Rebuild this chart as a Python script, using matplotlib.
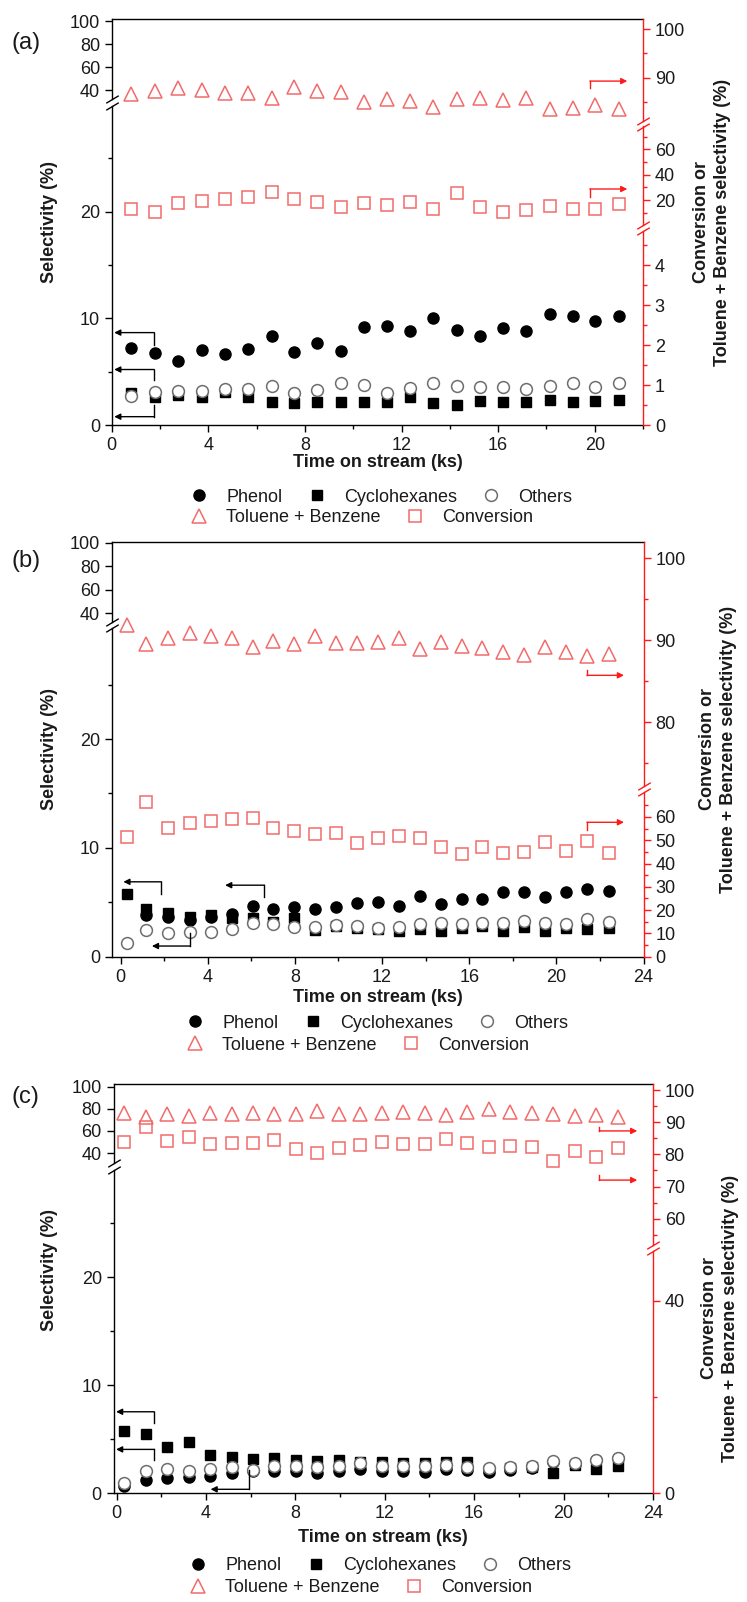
import matplotlib.pyplot as plt
from matplotlib.ticker import MultipleLocator, FixedLocator
import numpy as np

plt.rcParams['font.family'] = ['Liberation Sans', 'DejaVu Sans']

# ---- data ----
time_a = [0.81, 1.78, 2.74, 3.73, 4.67, 5.63, 6.62, 7.54, 8.5, 9.48, 10.43,
          11.4, 12.37, 13.3, 14.28, 15.26, 16.2, 17.14, 18.15, 19.1, 20.03, 21.0]
phenol_a = [7.19, 6.78, 6.0, 7.03, 6.66, 7.13, 8.34, 6.88, 7.66, 6.94, 9.16,
            9.28, 8.84, 10.06, 8.9, 8.38, 9.06, 8.81, 10.4, 10.25, 9.78, 10.22]
cyclo_a = [3.03, 2.66, 2.81, 2.59, 3.13, 2.59, 2.19, 2.09, 2.13, 2.19, 2.13,
           2.13, 2.66, 2.03, 1.88, 2.25, 2.19, 2.13, 2.34, 2.19, 2.25, 2.34]
others_a = [2.72, 3.13, 3.22, 3.19, 3.38, 3.38, 3.66, 2.97, 3.28, 3.9, 3.78,
            2.97, 3.44, 3.9, 3.66, 3.53, 3.53, 3.34, 3.66, 3.97, 3.53, 3.97]
tolben_a = [86.6, 87.3, 87.8, 87.5, 86.8, 86.9, 85.9, 88.0, 87.3, 87.1, 84.9,
            85.6, 85.2, 84.0, 85.6, 85.8, 85.4, 85.8, 83.5, 83.7, 84.4, 83.6]
conv_a = [12.9, 10.8, 17.4, 19.5, 20.5, 22.1, 26.5, 20.8, 18.7, 14.3, 17.4,
          15.8, 18.2, 12.9, 25.3, 14.3, 10.4, 12.2, 15.3, 12.9, 12.9, 16.6]

time_b = [0.29, 1.19, 2.18, 3.19, 4.17, 5.12, 6.07, 7.0, 7.95, 8.94, 9.87, 10.85,
          11.8, 12.78, 13.75, 14.7, 15.65, 16.6, 17.56, 18.5, 19.49, 20.46, 21.4, 22.39]
phenol_b = [np.nan, 3.82, 3.61, 3.36, 3.61, 3.91, 4.65, 4.34, 4.53, 4.34, 4.53, 4.89,
            5.05, 4.65, 5.57, 4.83, 5.26, 5.26, 5.96, 5.96, 5.5, 5.96, 6.18, 6.02]
cyclo_b = [5.75, 4.34, 4.04, 3.61, 3.82, 3.58, 3.52, 3.21, 3.52, 2.45, 2.81, 2.6,
           2.54, 2.39, 2.51, 2.35, 2.6, 2.81, 2.35, 2.69, 2.35, 2.6, 2.54, 2.6]
others_b = [1.28, 2.45, 2.2, 2.23, 2.29, 2.54, 3.06, 2.97, 2.75, 2.75, 2.87, 2.81,
            2.6, 2.75, 2.97, 3.12, 3.0, 3.06, 3.12, 3.3, 3.12, 3.0, 3.42, 3.18]
tolben_b = [91.8, 89.5, 90.2, 90.9, 90.5, 90.3, 89.1, 89.9, 89.5, 90.5, 89.7, 89.6,
            89.8, 90.3, 88.9, 89.8, 89.3, 89.0, 88.6, 88.2, 89.1, 88.5, 88.1, 88.3]
conv_b = [51.5, 66.5, 55.4, 57.3, 58.2, 59.1, 59.4, 55.4, 54.1, 52.5, 53.2, 48.7,
          50.8, 51.8, 51.1, 47.2, 43.9, 47.2, 44.4, 45.1, 49.1, 45.4, 49.7, 44.4]

time_c = [0.32, 1.3, 2.26, 3.22, 4.18, 5.14, 6.1, 7.06, 8.02, 8.96, 9.94, 10.9,
          11.86, 12.82, 13.78, 14.74, 15.7, 16.66, 17.62, 18.58, 19.54, 20.5, 21.46, 22.42]
phenol_c = [0.68, 1.23, 1.38, 1.48, 1.6, 1.91, 2.09, 2.09, 2.09, 1.85, 2.09, 2.22,
            2.09, 2.09, 2.0, 2.22, 2.15, 2.0, 2.15, 2.31, 2.86, 2.71, 3.08, 3.23]
cyclo_c = [5.78, 5.48, 4.31, 4.77, 3.54, 3.38, 3.14, 3.23, 3.08, 2.98, 3.08, 2.92,
           2.92, 2.83, 2.83, 2.92, 2.92, 2.2, 2.3, 2.4, 1.85, 2.6, 2.22, 2.52]
others_c = [0.98, 2.09, 2.22, 2.09, 2.22, 2.46, 2.15, 2.52, 2.55, 2.4, 2.52, 2.83,
            2.52, 2.52, 2.52, 2.62, 2.4, 2.31, 2.4, 2.52, 2.98, 2.77, 3.08, 3.29]
tolben_c = [93.0, 91.7, 92.5, 92.0, 92.8, 92.6, 93.0, 92.5, 92.6, 93.5, 92.5, 92.5,
            93.0, 93.1, 92.8, 92.3, 93.1, 94.0, 93.3, 92.8, 92.5, 92.0, 92.1, 91.6]
conv_c = [84.0, 88.6, 84.3, 85.3, 83.2, 83.5, 83.5, 84.5, 81.6, 80.5, 82.1, 82.9,
          84.0, 83.1, 83.2, 84.8, 83.5, 82.4, 82.6, 82.4, 78.0, 81.1, 79.3, 81.9]

W, H = 747, 1602
RED = '#ff1a1a'
PALE = '#f26b6b'
TXT = '#1a1a1a'
fig = plt.figure(figsize=(W / 100, H / 100), dpi=100)


def px_axes(x0, x1, y0, y1):
    ax = fig.add_axes([x0 / W, 1 - y1 / H, (x1 - x0) / W, (y1 - y0) / H])
    ax.patch.set_alpha(0)
    for s in ax.spines.values():
        s.set_visible(False)
        s.set_linewidth(1.0)
    ax.tick_params(labelsize=13, labelcolor=TXT, width=1.0, length=5)
    ax.tick_params(which='minor', width=1.0, length=3)
    return ax


def brk(ax, x, y, color):
    ax.plot([x], [y], transform=ax.transAxes, marker=[(-1, -0.6), (1, 0.6)],
            markersize=9, ls='none', mec=color, mew=1.0, clip_on=False)


def bracket(ax, x_tail, x_head, y, y_stem, color):
    ax.plot([x_tail, x_tail], [y_stem, y], color=color, lw=1.0, clip_on=False)
    ax.annotate('', xy=(x_head, y), xytext=(x_tail, y),
                arrowprops=dict(arrowstyle='-|>', color=color, lw=1.0,
                                mutation_scale=9, shrinkA=0, shrinkB=0))


def panel(p, t, phenol, cyclo, others, tolben, conv):
    x0, x1, top, bot = p['x0'], p['x1'], p['top'], p['bot']
    (u_b, l_t) = p['lsplit']
    lu = px_axes(x0, x1, top, u_b)
    ll = px_axes(x0, x1, l_t, bot)
    for ax in (lu, ll):
        ax.set_xlim(p['xlim'])
        ax.spines['left'].set_visible(True)
    lu.spines['top'].set_visible(True)
    ll.spines['bottom'].set_visible(True)
    lu.set_ylim(p['lu_lim'])
    ll.set_ylim(p['ll_lim'])
    lu.yaxis.set_major_locator(FixedLocator([40, 60, 80, 100]))
    lu.set_xticks([])
    ll.yaxis.set_major_locator(FixedLocator([0, 10, 20]))
    ll.yaxis.set_minor_locator(FixedLocator([5, 15, 25]))
    ll.xaxis.set_major_locator(FixedLocator(p['xticks']))
    ll.xaxis.set_minor_locator(MultipleLocator(2))
    brk(lu, 0, 0, 'k')
    brk(ll, 0, 1, 'k')

    h_ph, = ll.plot(t, phenol, 'o', color='k', ms=8, label='Phenol')
    h_cy, = ll.plot(t, cyclo, 's', color='k', ms=7, label='Cyclohexanes')
    h_ot, = ll.plot(t, others, 'o', mfc='white', mec='#6e6e6e', mew=1.1, ms=8.5,
                    label='Others')

    rs = []
    for (yt, yb, lim, major, minor) in p['right']:
        ax = px_axes(x0, x1, yt, yb)
        ax.set_xlim(p['xlim'])
        ax.set_ylim(lim)
        ax.set_xticks([])
        ax.spines['right'].set_visible(True)
        ax.spines['right'].set_color(RED)
        ax.yaxis.tick_right()
        ax.yaxis.set_major_locator(FixedLocator(major))
        ax.yaxis.set_minor_locator(FixedLocator(minor))
        ax.tick_params(axis='y', which='both', color=RED)
        rs.append(ax)
    for i, ax in enumerate(rs):
        if i > 0:
            brk(ax, 1, 1, RED)
        if i < len(rs) - 1:
            brk(ax, 1, 0, RED)

    h_tb, = rs[0].plot(t, tolben, '^', mfc='none', mec=PALE, mew=1.1, ms=10,
                       label='Toluene + Benzene')
    h_cv, = rs[p['conv_seg']].plot(t, conv, 's', mfc='none', mec=PALE, mew=1.1,
                                   ms=8, label='Conversion')

    for (xt, xh, y, ys) in p['black']:
        bracket(ll, xt, xh, y, ys, 'k')
    for (seg, xt, xh, y, ys) in p['red']:
        bracket(rs[seg], xt, xh, y, ys, RED)

    xc = (x0 + x1) / 2
    fig.text(12 / W, 1 - p['tag_y'] / H, p['tag'], fontsize=17, va='center',
             color=TXT)
    fig.text(50 / W, 1 - p['ylab_y'] / H, 'Selectivity (%)', rotation=90,
             fontsize=13, fontweight='bold', ha='center', va='center', color=TXT)
    fig.text(p['rlab_x'] / W, 1 - p['rlab_y'] / H,
             'Conversion or\nToluene + Benzene selectivity (%)', rotation=90,
             fontsize=13, fontweight='bold', ha='center', va='center',
             multialignment='center', linespacing=1.25, color=TXT)
    fig.text(xc / W, 1 - p['xlab_y'] / H, 'Time on stream (ks)', fontsize=13,
             fontweight='bold', ha='center', va='center', color=TXT)
    for handles, y in (([h_ph, h_cy, h_ot], p['leg_y'][0]),
                       ([h_tb, h_cv], p['leg_y'][1])):
        fig.legend(handles=handles, loc='center left',
                   bbox_to_anchor=(p['leg_x'] / W, 1 - y / H), ncol=len(handles),
                   frameon=False, fontsize=13, borderpad=0, handlelength=1.0,
                   handletextpad=1.0, columnspacing=1.4, labelcolor=TXT)


pa = dict(x0=111.8, x1=643, top=19.3, bot=425, xlim=(0, 22),
          xticks=[0, 4, 8, 12, 16, 20],
          lsplit=(99, 106), lu_lim=(32.2, 101.5), ll_lim=(0, 29.9),
          right=[(19.3, 120.5, (81.2, 102.0), [90, 100], [85, 95]),
                 (126.5, 225, (0.3, 78.0), [20, 40, 60], [10, 30, 50, 70]),
                 (231, 425, (0, 4.85), [0, 1, 2, 3, 4],
                  [0.5, 1.5, 2.5, 3.5, 4.5])],
          conv_seg=1,
          black=[(1.76, 0.1, 8.66, 7.5), (1.76, 0.1, 5.2, 4.2),
                 (1.76, 0.1, 0.78, 1.9)],
          red=[(0, 19.8, 21.35, 89.3, 87.9), (1, 19.8, 21.35, 28.7, 22.4)],
          tag='(a)', tag_y=43, ylab_y=222, rlab_x=712, rlab_y=222,
          xlab_y=463, leg_y=(497, 518), leg_x=181)

pb = dict(x0=111.8, x1=643.6, top=541.7, bot=956.7, xlim=(-0.4, 24),
          xticks=[0, 4, 8, 12, 16, 20, 24],
          lsplit=(622, 628), lu_lim=(32.3, 101.1), ll_lim=(0, 30.2),
          right=[(541.7, 786, (72.2, 102.0), [80, 90, 100], [75, 85, 95]),
                 (792, 956.7, (0, 70.7), [0, 10, 20, 30, 40, 50, 60],
                  [5, 15, 25, 35, 45, 55, 65])],
          conv_seg=1,
          black=[(1.88, 0.13, 6.88, 5.75), (6.6, 4.8, 6.57, 5.5),
                 (3.19, 1.44, 0.98, 2.14)],
          red=[(0, 21.4, 23.1, 85.7, 86.3), (1, 21.4, 23.1, 57.7, 54.4)],
          tag='(b)', tag_y=561, ylab_y=749, rlab_x=718, rlab_y=749,
          xlab_y=998, leg_y=(1023, 1045), leg_x=177)

pc = dict(x0=113.6, x1=652.9, top=1084, bot=1493.3, xlim=(-0.14, 24),
          xticks=[0, 4, 8, 12, 16, 20, 24],
          lsplit=(1163, 1170), lu_lim=(31.0, 102.4), ll_lim=(0, 29.9),
          right=[(1084, 1245, (51.8, 101.9), [60, 70, 80, 90, 100],
                  [55, 65, 75, 85, 95]),
                 (1251, 1493.3, (0, 50.3), [0, 40], [20])],
          conv_seg=0,
          black=[(1.68, -0.03, 7.54, 6.5), (1.68, -0.03, 4.06, 3.08),
                 (5.94, 4.2, 0.37, 2.2)],
          red=[(0, 21.6, 23.3, 87.3, 88.6), (0, 21.6, 23.3, 72.0, 73.6)],
          tag='(c)', tag_y=1097, ylab_y=1270, rlab_x=720, rlab_y=1318,
          xlab_y=1538, leg_y=(1566, 1588), leg_x=180)

panel(pa, time_a, phenol_a, cyclo_a, others_a, tolben_a, conv_a)
panel(pb, time_b, phenol_b, cyclo_b, others_b, tolben_b, conv_b)
panel(pc, time_c, phenol_c, cyclo_c, others_c, tolben_c, conv_c)

fig.savefig('out.png', dpi=100, facecolor='white')
